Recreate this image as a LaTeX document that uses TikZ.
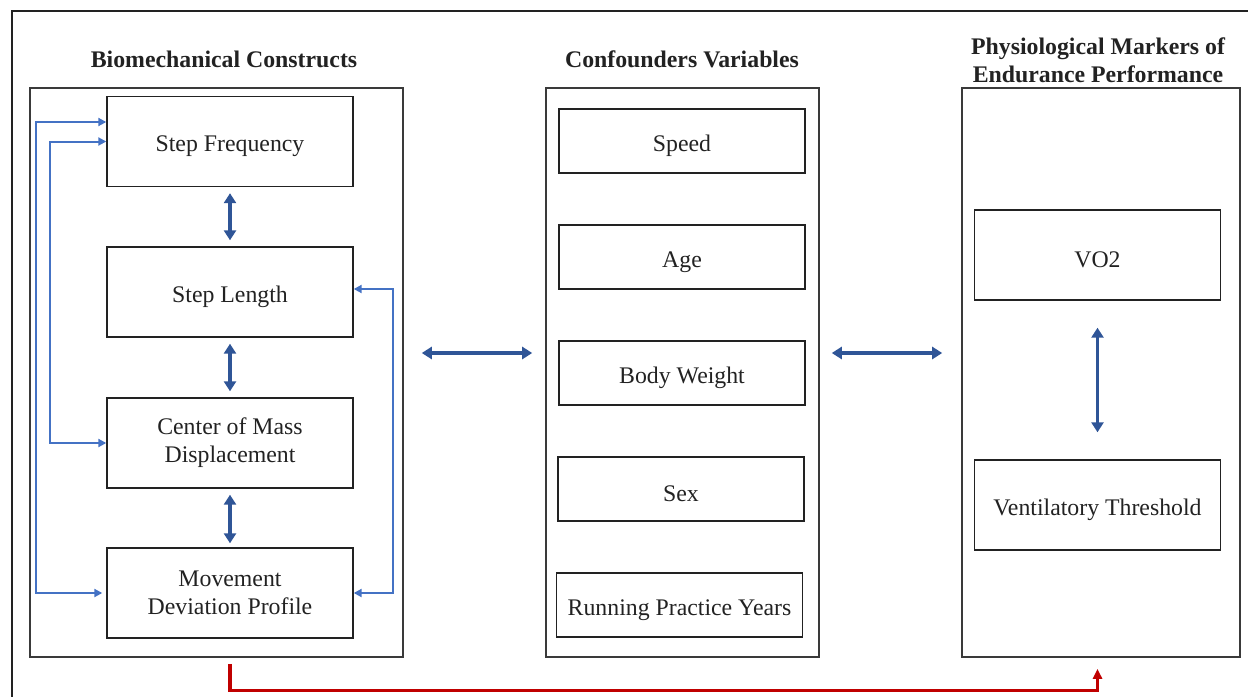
\documentclass[tikz,border=0pt]{standalone}
\usepackage{fontspec}
\setmainfont{Liberation Serif}
\usepackage{xcolor}
\usetikzlibrary{positioning,arrows.meta,calc}
\definecolor{linkblue}{HTML}{2F5597}
\definecolor{loopblue}{HTML}{4472C4}
\definecolor{pathred}{HTML}{C00000}
\definecolor{inkdark}{HTML}{222222}
\definecolor{panelgray}{HTML}{3A3A3A}
\tikzset{
  every node/.style={font=\fontsize{11.9}{14}\selectfont, text=inkdark},
  panel/.style={draw=panelgray, line width=0.8pt, inner sep=0pt, minimum height=284.5pt},
  var/.style={draw=inkdark, line width=0.7pt, inner sep=0pt, align=center, minimum width=123pt, minimum height=45pt, execute at begin node={\rule{0pt}{13pt}}},
  conf/.style={draw=inkdark, line width=0.7pt, inner sep=0pt, align=center, minimum width=123pt, minimum height=32pt, execute at begin node={\rule{0pt}{13pt}}},
  ttl/.style={font=\fontsize{11.9}{14}\selectfont\bfseries, align=center},
  link/.style={{Triangle[length=5pt,width=6pt]}-{Triangle[length=5pt,width=6pt]}, line width=1.6pt, draw=linkblue},
  fb/.style={{Triangle[length=4pt,width=4pt]}-{Triangle[length=4pt,width=4pt]}, line width=1pt, draw=loopblue},
  eff/.style={-{Triangle[length=5pt,width=4.5pt]}, line width=1.6pt, draw=pathred},
}
\begin{document}
\begin{tikzpicture}[x=0.5pt, y=-0.5pt]
  \useasboundingbox (0,0) rectangle (1248,697);
  \draw[line width=0.8pt, draw=inkdark] (1248,11) -- (12,11) -- (12,697);

  % three panels
  \node[panel, minimum width=186.5pt] (lp) at (216.5,372.5) {};
  \node[panel, minimum width=136.5pt] (mp) at (682.5,372.5) {};
  \node[panel, minimum width=139pt] (rp) at (1101,372.5) {};
  \node[ttl] (lt) at (224,59) {Biomechanical Constructs};
  \node[ttl] (mt) at (682,59) {Confounders Variables};
  \node[ttl] (rt) at (1098,60) {Physiological Markers of\\Endurance Performance};

  % biomechanical constructs
  \node[var] (sf) at (230,141.5) {Step Frequency};
  \node[var] (sl) at (230,292) {Step Length};
  \node[var] (com) at (230,443) {Center of Mass\\Displacement};
  \node[var] (mdp) at (230,593) {Movement\\Deviation Profile};

  % confounders
  \node[conf] (spd) at (682,141) {Speed};
  \node[conf] (age) at (682,257) {Age};
  \node[conf] (bw) at (682,373) {Body Weight};
  \node[conf] (sex) at (681,489) {Sex};
  \node[conf] (rpy) at (679.5,605) {Running Practice Years};

  % physiological markers
  \node[var] (vo) at (1097.5,255) {VO2};
  \node[var] (vt) at (1097.5,505) {Ventilatory Threshold};

  \draw[link, shorten <=3pt, shorten >=3pt] (sf) -- (sl);
  \draw[link, shorten <=3pt, shorten >=3pt] (sl) -- (com);
  \draw[link, shorten <=3pt, shorten >=2pt] (com) -- (mdp);
  \draw[link, shorten <=13.5pt, shorten >=13.5pt] (vo) -- (vt);
  \draw[link] ([xshift=9pt,yshift=9.75pt]lp.east) -- ([xshift=-6.5pt,yshift=9.75pt]mp.west);
  \draw[link] ([xshift=6pt,yshift=9.75pt]mp.east) -- ([xshift=-9.5pt,yshift=9.75pt]rp.west);

  % feedback loops
  \draw[fb] ([yshift=9.75pt]sf.west) -- ++(-35pt,0) |- ([xshift=-2pt]mdp.west);
  \draw[fb] (sf.west) -- ++(-28pt,0) |- (com.west);
  \draw[fb] ([yshift=1.5pt]sl.east) -- ++(19.5pt,0) |- (mdp.east);

  % overall path
  \draw[eff] ($(mdp |- lp.south)+(0,-3pt)$) -- ++(0,-13.5pt) -| ($(vt |- rp.south)+(0,-5.5pt)$);
\end{tikzpicture}
\end{document}
